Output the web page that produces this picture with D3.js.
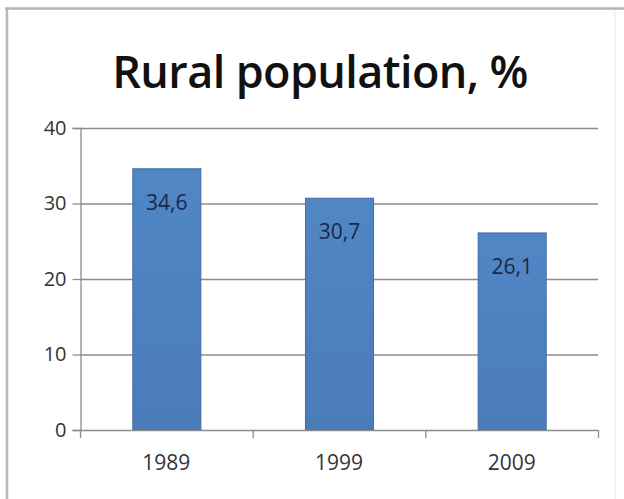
<!DOCTYPE html>
<html>
<head>
<meta charset="utf-8">
<script src="https://cdn.jsdelivr.net/npm/d3@7"></script>
<style>
  html, body { margin: 0; padding: 0; background: #fff; }
  svg { display: block; }
</style>
</head>
<body>
<svg id="chart" width="624" height="499"></svg>
<script>
// Rural population share by census year
const years = ["1989", "1999", "2009"];
const values = [34.6, 30.7, 26.1];
const valueLabels = ["34,6", "30,7", "26,1"];
const yTicks = [0, 10, 20, 30, 40];
const titleText = "Rural population, %";

const svg = d3.select("#chart");
const W = 624, H = 499;
const plot = { left: 80, right: 598, top: 128, bottom: 430 };
const font = "'Open Sans', 'Noto Sans', sans-serif";

// frame
svg.append("line").attr("x1", 5).attr("x2", W).attr("y1", 8.5).attr("y2", 8.5)
  .attr("stroke", "#b4b4b4").attr("stroke-width", 2.5);
svg.append("line").attr("x1", 7).attr("x2", 7).attr("y1", 8).attr("y2", H)
  .attr("stroke", "#b8b8b8").attr("stroke-width", 2.5);
svg.append("line").attr("x1", 615).attr("x2", 615).attr("y1", 10).attr("y2", H)
  .attr("stroke", "#f0f0f0").attr("stroke-width", 1.5);

// title
svg.append("text")
  .attr("x", 320).attr("y", 88)
  .attr("text-anchor", "middle")
  .attr("font-family", font)
  .attr("font-weight", 600)
  .attr("font-size", 45)
  .attr("fill", "#111")
  .attr("letter-spacing", -0.6)
  .text(titleText);

const x = d3.scaleBand()
  .domain(years)
  .range([plot.left, plot.right])
  .paddingInner(0.6)
  .paddingOuter(0.3);

const y = d3.scaleLinear().domain([0, 40]).range([plot.bottom, plot.top]);

// horizontal gridlines
svg.append("g")
  .selectAll("line")
  .data(yTicks.filter(d => d > 0))
  .join("line")
  .attr("x1", plot.left).attr("x2", plot.right)
  .attr("y1", d => y(d) + 0.5).attr("y2", d => y(d) + 0.5)
  .attr("stroke", "#8c8c8c").attr("stroke-width", 1.3);

// y axis
const yAxis = svg.append("g")
  .attr("transform", `translate(${plot.left + 0.5},0)`)
  .call(d3.axisLeft(y).tickValues(yTicks).tickSize(8).tickPadding(6));
yAxis.select(".domain").attr("stroke", "#8c8c8c").attr("stroke-width", 1.3);
yAxis.selectAll(".tick line").attr("stroke", "#8c8c8c").attr("stroke-width", 1.3);
yAxis.selectAll(".tick text")
  .attr("font-family", font)
  .attr("font-size", 20).attr("fill", "#333");

// bars
const grad = svg.append("defs").append("linearGradient")
  .attr("id", "barFill").attr("x1", 0).attr("x2", 0).attr("y1", 0).attr("y2", 1);
grad.append("stop").attr("offset", "0%").attr("stop-color", "#5186c4");
grad.append("stop").attr("offset", "100%").attr("stop-color", "#4a7cb9");

svg.append("g")
  .selectAll("rect")
  .data(years)
  .join("rect")
  .attr("x", d => x(d) + 1)
  .attr("width", x.bandwidth() - 1)
  .attr("y", (d, i) => y(values[i]))
  .attr("height", (d, i) => y(0) - y(values[i]))
  .attr("fill", "url(#barFill)")
  .attr("stroke", "#3f6ea6").attr("stroke-width", 1);

// value labels
svg.append("g")
  .selectAll("text")
  .data(years)
  .join("text")
  .attr("x", d => x(d) + x.bandwidth() / 2 + 0.5)
  .attr("y", (d, i) => y(values[i]) + 41)
  .attr("text-anchor", "middle")
  .attr("font-family", font)
  .attr("font-size", 21)
  .attr("fill", "#17294a")
  .text((d, i) => valueLabels[i]);

// x axis
const xAxis = svg.append("g")
  .attr("transform", `translate(0,${plot.bottom + 0.5})`)
  .call(d3.axisBottom(x).tickSize(0).tickPadding(25));
xAxis.select(".domain").attr("stroke", "#8c8c8c").attr("stroke-width", 1.3)
  .attr("d", `M${plot.left},0H${plot.right}`);
xAxis.selectAll(".tick text")
  .attr("font-family", font)
  .attr("font-size", 21).attr("fill", "#333");

// category separators on the x axis
const step = x.step();
const seps = d3.range(years.length + 1).map(i => plot.left + i * step);
svg.append("g")
  .selectAll("line")
  .data(seps)
  .join("line")
  .attr("x1", d => d + 0.5).attr("x2", d => d + 0.5)
  .attr("y1", plot.bottom).attr("y2", plot.bottom + 8)
  .attr("stroke", "#8c8c8c").attr("stroke-width", 1.3);
</script>
</body>
</html>
